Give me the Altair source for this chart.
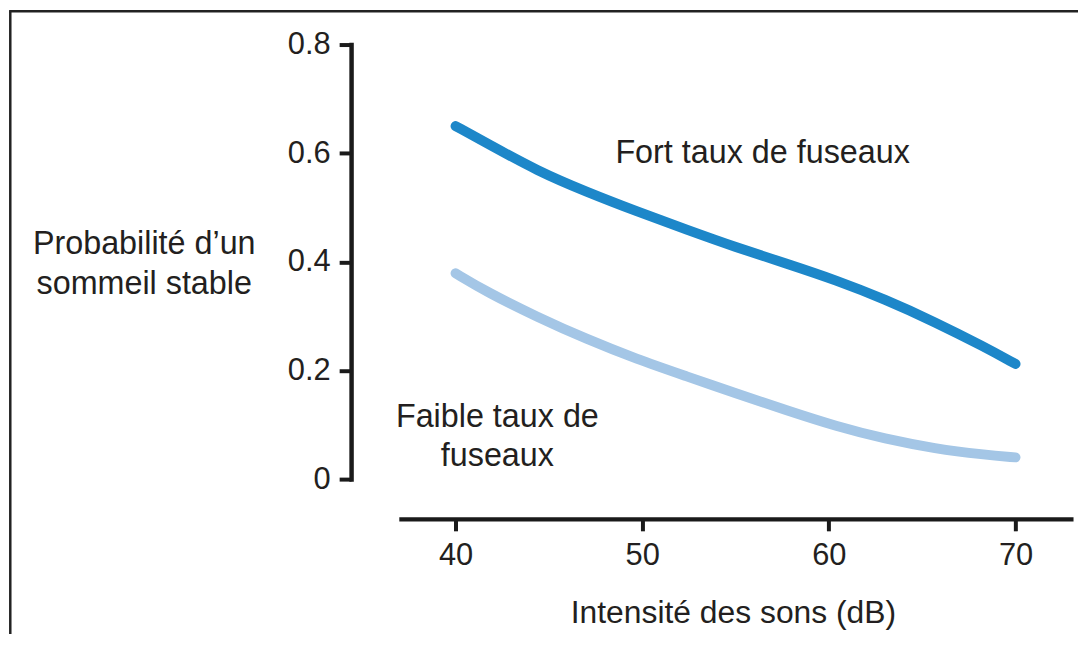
import altair as alt
import pandas as pd

# ---- data ----
db_values = [40.0, 41.7, 44.4, 47.0, 49.7, 52.4, 55.0, 57.7, 60.4, 63.0, 65.7, 68.3, 70.0]
fort = [0.650, 0.618, 0.567, 0.529, 0.493, 0.459, 0.427, 0.397, 0.366, 0.331, 0.289, 0.244, 0.212]
faible = [0.379, 0.344, 0.298, 0.258, 0.221, 0.189, 0.158, 0.127, 0.097, 0.074, 0.056, 0.045, 0.040]
series_names = ["Fort", "Faible"]
series_colors = ["#1d87c9", "#a4c6e6"]
x_ticks = [40, 50, 60, 70]
y_ticks = [0, 0.2, 0.4, 0.6, 0.8]

ann_text = ["Fort taux de fuseaux", "Faible taux de\nfuseaux"]
ann_x = [56.45, 42.24]
ann_y = [0.6, 0.115]

rows = []
for name, vals in zip(series_names, [fort, faible]):
    for x, y in zip(db_values, vals):
        rows.append({"db": x, "p": y, "serie": name})
df = pd.DataFrame(rows)
ann = pd.DataFrame({"t": ann_text, "x": ann_x, "y": ann_y})

FONT = "Liberation Sans"
TXT = "#231f20"
AX = "#1a1a1a"

xscale = alt.Scale(domain=[36.96, 73.08], nice=False, zero=False)
yscale = alt.Scale(domain=[0, 0.8], nice=False)

lines = alt.Chart(df).mark_line(
    strokeWidth=10, strokeCap="round", strokeJoin="round", interpolate="basis"
).encode(
    x=alt.X("db:Q", scale=xscale,
            axis=alt.Axis(values=x_ticks, offset=40, grid=False,
                          title="Intensité des sons (dB)",
                          titleX=336, titleY=104, titleBaseline="alphabetic",
                          titleAlign="center", titleFontSize=32,
                          labelPadding=10)),
    y=alt.Y("p:Q", scale=yscale,
            axis=alt.Axis(values=y_ticks, format=".1~f", offset=48, grid=False,
                          title=["Probabilité d’un", "sommeil stable"],
                          titleAngle=0, titleAlign="center", titleBaseline="middle",
                          titleX=-208.5, titleY=200, titleLineHeight=40,
                          titleFontSize=32.5, domainCap="square", labelPadding=9)),
    color=alt.Color("serie:N", scale=alt.Scale(domain=series_names, range=series_colors),
                    legend=None),
    detail="serie:N",
)

texts = alt.Chart(ann).mark_text(
    font=FONT, fontSize=32.5, color=TXT, align="center", baseline="middle",
    lineBreak="\n", lineHeight=40
).encode(x=alt.X("x:Q", scale=xscale), y=alt.Y("y:Q", scale=yscale), text="t:N")

frame_df = pd.DataFrame({"k": [0]})
frame_left = alt.Chart(frame_df).mark_rule(color="#222222", strokeWidth=2.5).encode(
    x=alt.value(-390.7), y=alt.value(-33.5), y2=alt.value(700)
)
frame_top = alt.Chart(frame_df).mark_rule(color="#222222", strokeWidth=2.5).encode(
    x=alt.value(-391.9), x2=alt.value(700), y=alt.value(-33.5)
)

chart = alt.layer(frame_left, frame_top, lines, texts).properties(
    width=678, height=437,
    padding={"left": 393, "top": 35, "right": 5, "bottom": 154},
    autosize=alt.AutoSizeParams(type="none"),
    background="white",
).configure_view(stroke=None).configure_axis(
    domainColor=AX, domainWidth=4.5, tickColor=AX, tickWidth=4, tickSize=12,
    labelFont=FONT, labelFontSize=31, labelColor=TXT,
    titleFont=FONT, titleColor=TXT, titleFontWeight="normal",
)

chart.save("out.html", embed_options={"renderer": "svg", "actions": False})
